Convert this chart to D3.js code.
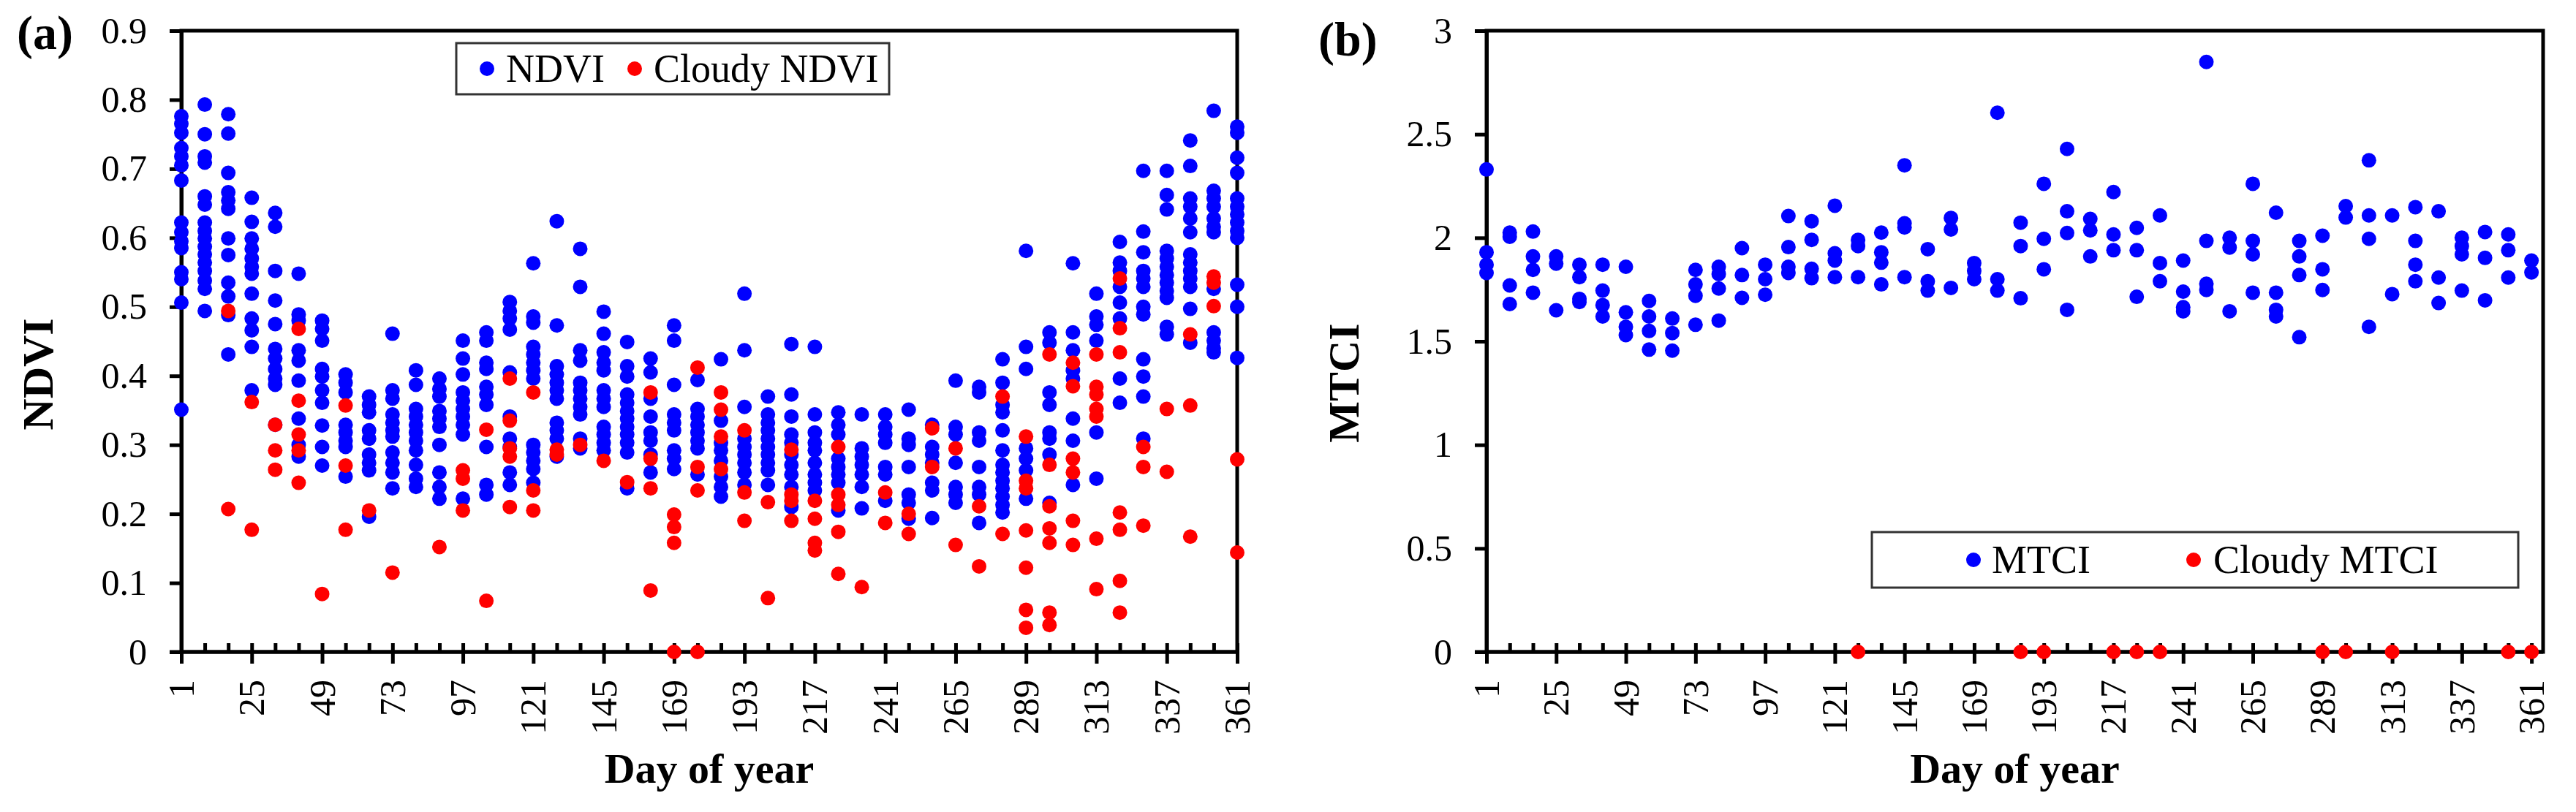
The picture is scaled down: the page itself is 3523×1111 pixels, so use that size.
<!DOCTYPE html>
<html lang="en">
<head>
<meta charset="utf-8">
<script src="https://cdn.jsdelivr.net/npm/d3@7"></script>
<style>
  body { margin: 0; background: #fff; }
  text { font-family: "Liberation Serif", "Times New Roman", serif; fill: #000; }
</style>
</head>
<body>
<div id="chart"></div>
<script>
// observation days (8-day composites)
var days = [1, 9, 17, 25, 33, 41, 49, 57, 65, 73, 81, 89, 97, 105, 113, 121, 129, 137, 145, 153, 161, 169, 177,
            185, 193, 201, 209, 217, 225, 233, 241, 249, 257, 265, 273, 281, 289, 297, 305, 313, 321, 329, 337, 345, 353, 361];
var majorDays = [1, 25, 49, 73, 97, 121, 145, 169, 193, 217, 241, 265, 289, 313, 337, 361];

var ndviTicks = [0, 0.1, 0.2, 0.3, 0.4, 0.5, 0.6, 0.7, 0.8, 0.9];
var ndviTickLabels = ["0", "0.1", "0.2", "0.3", "0.4", "0.5", "0.6", "0.7", "0.8", "0.9"];
var mtciTicks = [0, 0.5, 1, 1.5, 2, 2.5, 3];
var mtciTickLabels = ["0", "0.5", "1", "1.5", "2", "2.5", "3"];

// NDVI values per day (one list per entry of days)
var ndvi = [
  [0.776, 0.765, 0.752, 0.73, 0.718, 0.705, 0.683, 0.622, 0.608, 0.595, 0.585, 0.55, 0.54, 0.506, 0.351],
  [0.793, 0.75, 0.718, 0.709, 0.66, 0.648, 0.622, 0.61, 0.599, 0.587, 0.576, 0.564, 0.552, 0.538, 0.526, 0.494],
  [0.779, 0.751, 0.694, 0.666, 0.654, 0.642, 0.599, 0.575, 0.535, 0.515, 0.488, 0.431],
  [0.658, 0.623, 0.599, 0.584, 0.57, 0.558, 0.548, 0.519, 0.483, 0.466, 0.442, 0.379],
  [0.636, 0.616, 0.552, 0.509, 0.475, 0.439, 0.425, 0.41, 0.396, 0.387, 0.329],
  [0.548, 0.489, 0.48, 0.437, 0.422, 0.393, 0.338, 0.3, 0.283],
  [0.48, 0.468, 0.451, 0.41, 0.399, 0.379, 0.361, 0.328, 0.297, 0.27],
  [0.402, 0.39, 0.376, 0.329, 0.318, 0.306, 0.297, 0.254],
  [0.37, 0.358, 0.347, 0.321, 0.309, 0.286, 0.274, 0.263, 0.196],
  [0.461, 0.379, 0.367, 0.344, 0.332, 0.321, 0.312, 0.289, 0.274, 0.26, 0.237],
  [0.408, 0.387, 0.352, 0.341, 0.329, 0.318, 0.306, 0.292, 0.271, 0.251, 0.239],
  [0.396, 0.381, 0.37, 0.349, 0.338, 0.326, 0.3, 0.26, 0.239, 0.222],
  [0.451, 0.425, 0.402, 0.376, 0.364, 0.352, 0.341, 0.329, 0.315, 0.222],
  [0.463, 0.451, 0.419, 0.41, 0.384, 0.373, 0.358, 0.297, 0.242, 0.228],
  [0.507, 0.494, 0.483, 0.467, 0.405, 0.341, 0.309, 0.297, 0.26, 0.242],
  [0.563, 0.486, 0.477, 0.442, 0.431, 0.419, 0.408, 0.396, 0.3, 0.289, 0.277, 0.265, 0.245],
  [0.624, 0.473, 0.414, 0.402, 0.39, 0.379, 0.367, 0.332, 0.321, 0.309, 0.283],
  [0.584, 0.529, 0.437, 0.422, 0.39, 0.379, 0.367, 0.355, 0.344, 0.309, 0.295],
  [0.493, 0.461, 0.434, 0.419, 0.408, 0.379, 0.367, 0.355, 0.326, 0.315, 0.303, 0.292],
  [0.449, 0.414, 0.399, 0.373, 0.361, 0.349, 0.338, 0.326, 0.315, 0.303, 0.289, 0.237],
  [0.425, 0.405, 0.367, 0.341, 0.318, 0.306, 0.286, 0.26],
  [0.473, 0.451, 0.387, 0.344, 0.332, 0.321, 0.292, 0.28, 0.265],
  [0.394, 0.352, 0.341, 0.329, 0.318, 0.306, 0.295, 0.257],
  [0.424, 0.335, 0.303, 0.292, 0.277, 0.254, 0.239, 0.225],
  [0.519, 0.437, 0.355, 0.309, 0.297, 0.286, 0.274, 0.26, 0.242],
  [0.37, 0.344, 0.332, 0.321, 0.309, 0.297, 0.286, 0.274, 0.263, 0.242],
  [0.446, 0.373, 0.341, 0.315, 0.303, 0.286, 0.271, 0.257, 0.239, 0.21],
  [0.442, 0.344, 0.318, 0.303, 0.292, 0.274, 0.257, 0.245, 0.234],
  [0.347, 0.329, 0.315, 0.28, 0.268, 0.257, 0.245, 0.205],
  [0.344, 0.295, 0.283, 0.271, 0.257, 0.239, 0.208],
  [0.344, 0.326, 0.315, 0.303, 0.268, 0.257, 0.219],
  [0.351, 0.309, 0.3, 0.268, 0.228, 0.216, 0.193],
  [0.329, 0.297, 0.286, 0.274, 0.245, 0.234, 0.194],
  [0.393, 0.326, 0.315, 0.274, 0.239, 0.228, 0.216],
  [0.384, 0.376, 0.318, 0.306, 0.268, 0.239, 0.228, 0.187],
  [0.424, 0.39, 0.358, 0.347, 0.321, 0.292, 0.271, 0.26, 0.248, 0.237, 0.225, 0.213, 0.202],
  [0.581, 0.442, 0.41, 0.295, 0.28, 0.263, 0.222],
  [0.463, 0.448, 0.376, 0.358, 0.318, 0.309, 0.286, 0.216],
  [0.563, 0.463, 0.437, 0.408, 0.396, 0.338, 0.306, 0.242],
  [0.519, 0.486, 0.474, 0.451, 0.318, 0.251],
  [0.594, 0.564, 0.552, 0.529, 0.506, 0.483, 0.396, 0.361],
  [0.697, 0.609, 0.579, 0.552, 0.541, 0.529, 0.5, 0.489, 0.424, 0.399, 0.37, 0.309],
  [0.697, 0.662, 0.641, 0.581, 0.57, 0.558, 0.546, 0.535, 0.523, 0.513, 0.471, 0.46],
  [0.741, 0.704, 0.657, 0.645, 0.628, 0.608, 0.576, 0.564, 0.552, 0.541, 0.529, 0.497, 0.448],
  [0.784, 0.668, 0.657, 0.645, 0.628, 0.616, 0.608, 0.526, 0.463, 0.451, 0.44, 0.434],
  [0.761, 0.752, 0.716, 0.694, 0.657, 0.645, 0.634, 0.622, 0.61, 0.6, 0.532, 0.5, 0.426]
];

var cloudyNdvi = [
  [], [], [0.494, 0.207], [0.362, 0.177], [0.329, 0.292, 0.264], [0.468, 0.364, 0.315, 0.292, 0.245],
  [0.084], [0.357, 0.27, 0.177], [0.205], [0.115], [], [0.152], [0.263, 0.251, 0.205], [0.322, 0.074],
  [0.396, 0.335, 0.295, 0.283, 0.21], [0.376, 0.234, 0.205], [0.293, 0.286], [0.3], [0.277], [0.246],
  [0.376, 0.28, 0.237, 0.089], [0.199, 0.181, 0.158, 0], [0.412, 0.268, 0.234, 0], [0.376, 0.351, 0.312, 0.265],
  [0.321, 0.231, 0.19], [0.217, 0.078], [0.293, 0.228, 0.219, 0.19], [0.219, 0.193, 0.158, 0.147],
  [0.297, 0.228, 0.213, 0.174, 0.113], [0.094], [0.231, 0.187], [0.2, 0.171], [0.324, 0.268], [0.295, 0.155],
  [0.211, 0.124], [0.37, 0.171], [0.312, 0.248, 0.237, 0.176, 0.122, 0.061, 0.035],
  [0.431, 0.271, 0.211, 0.179, 0.158, 0.057, 0.039], [0.419, 0.385, 0.28, 0.26, 0.19, 0.155],
  [0.431, 0.384, 0.373, 0.352, 0.341, 0.164, 0.091], [0.541, 0.469, 0.434, 0.202, 0.177, 0.103, 0.057],
  [0.297, 0.268, 0.183], [0.352, 0.261], [0.46, 0.357, 0.167], [0.544, 0.535, 0.501], [0.279, 0.144]
];

// MTCI values per day
var mtci = [
  [2.33, 1.93, 1.87, 1.83], [2.025, 2.005, 1.77, 1.68], [2.03, 1.91, 1.845, 1.735], [1.91, 1.875, 1.65],
  [1.87, 1.81, 1.705, 1.69], [1.87, 1.745, 1.675, 1.62], [1.86, 1.64, 1.57, 1.53], [1.695, 1.62, 1.55, 1.46],
  [1.61, 1.54, 1.455], [1.845, 1.775, 1.72, 1.58], [1.86, 1.825, 1.755, 1.6], [1.95, 1.82, 1.71],
  [1.87, 1.8, 1.725], [2.105, 1.955, 1.86, 1.83], [2.08, 1.99, 1.85, 1.805], [2.155, 1.925, 1.89, 1.81],
  [1.99, 1.96, 1.81], [2.025, 1.93, 1.88, 1.775], [2.35, 2.07, 2.05, 1.81], [1.945, 1.79, 1.745],
  [2.096, 2.04, 1.758], [1.878, 1.84, 1.8], [2.604, 1.8, 1.745], [2.073, 1.96, 1.708],
  [2.261, 1.995, 1.848], [2.429, 2.128, 2.023, 1.652], [2.091, 2.036, 1.91], [2.221, 2.016, 1.94],
  [2.048, 1.94, 1.715], [2.108, 1.878, 1.79], [1.89, 1.74, 1.665, 1.645], [2.849, 1.985, 1.778, 1.748],
  [2.0, 1.953, 1.645], [2.261, 1.985, 1.92, 1.735], [2.121, 1.735, 1.652, 1.62], [1.985, 1.91, 1.82, 1.52],
  [2.01, 1.848, 1.748], [2.153, 2.098], [2.374, 2.108, 1.995, 1.57], [2.108, 1.728],
  [2.148, 1.985, 1.87, 1.79], [2.128, 1.808, 1.685], [2.0, 1.96, 1.92, 1.745], [2.028, 1.903, 1.698],
  [2.016, 1.94, 1.808], [1.89, 1.833]
];

var cloudyMtciDays = [129, 185, 193, 217, 225, 233, 289, 297, 313, 353, 361];
var cloudyMtciValues = [0, 0, 0, 0, 0, 0, 0, 0, 0, 0, 0];

var width = 3523;
var height = 1111;
var plotTop = 42;
var plotBottom = 892;
var dotRadius = 10;
var blue = "#0000ff";
var red = "#ff0000";

var svg = d3.select("#chart").append("svg")
  .attr("width", width)
  .attr("height", height);

svg.append("rect")
  .attr("width", width)
  .attr("height", height)
  .attr("fill", "#fff");

function flatten(dayList, lists) {
  var out = [];
  dayList.forEach(function(d, i) {
    lists[i].forEach(function(v) { out.push({day: d, value: v}); });
  });
  return out;
}

function drawPanel(p) {
  var x = d3.scaleLinear().domain(p.xDomain).range([p.left, p.right]);
  var y = d3.scaleLinear().domain(p.yDomain).range([plotBottom, plotTop]);
  var g = svg.append("g");

  /* frame */
  g.append("rect")
    .attr("x", p.left)
    .attr("y", plotTop)
    .attr("width", p.right - p.left)
    .attr("height", plotBottom - plotTop)
    .attr("fill", "none")
    .attr("stroke", "#000")
    .attr("stroke-width", 5);

  /* y axis */
  var yAxis = d3.axisLeft(y)
    .tickValues(p.yTicks)
    .tickFormat(function(d, i) { return p.yLabels[i]; })
    .tickSizeInner(16)
    .tickSizeOuter(0)
    .tickPadding(31);

  var ya = g.append("g")
    .attr("transform", "translate(" + p.left + ",0)")
    .call(yAxis);
  ya.selectAll("path, line").attr("stroke", "#000").attr("stroke-width", 5);
  ya.selectAll("text").style("font-size", "50px").attr("fill", "#000");

  /* x axis: minor ticks pointing up, major ticks crossing with rotated labels */
  var xMinor = d3.axisTop(x)
    .tickValues(days)
    .tickSizeInner(12)
    .tickSizeOuter(0)
    .tickFormat("");
  var xm = g.append("g")
    .attr("transform", "translate(0," + plotBottom + ")")
    .call(xMinor);
  xm.select(".domain").remove();
  xm.selectAll("line").attr("stroke", "#000").attr("stroke-width", 5);

  var xAxis = d3.axisBottom(x)
    .tickValues(majorDays)
    .tickSizeInner(16)
    .tickSizeOuter(0);
  var xa = g.append("g")
    .attr("transform", "translate(0," + plotBottom + ")")
    .call(xAxis);
  xa.select(".domain").attr("d", "M" + (p.left - 16) + ",0H" + p.right);
  xa.selectAll("path, line").attr("stroke", "#000").attr("stroke-width", 5);
  xa.selectAll("text")
    .style("font-size", "50px")
    .attr("fill", "#000")
    .attr("text-anchor", "end")
    .attr("transform", "rotate(-90)")
    .attr("x", -38)
    .attr("y", 0)
    .attr("dy", "0.33em");

  /* points */
  var clear = flatten(p.days, p.clear);
  var cloudy = flatten(p.cloudyDays, p.cloudy);

  g.append("g").selectAll("circle")
    .data(clear).enter()
    .append("circle")
    .attr("cx", d => x(d.day))
    .attr("cy", d => y(d.value))
    .attr("r", dotRadius)
    .attr("fill", blue);

  g.append("g").selectAll("circle")
    .data(cloudy).enter()
    .append("circle")
    .attr("cx", d => x(d.day))
    .attr("cy", d => y(d.value))
    .attr("r", dotRadius)
    .attr("fill", red);

  /* titles */
  g.append("text")
    .attr("x", p.tagX)
    .attr("y", p.tagY)
    .style("font-size", "66px")
    .style("font-weight", "bold")
    .text(p.tag);

  g.append("text")
    .attr("transform", "translate(" + p.yTitleX + "," + p.yTitleY + ") rotate(-90)")
    .attr("text-anchor", "middle")
    .style("font-size", "60px")
    .style("font-weight", "bold")
    .text(p.yTitle);

  g.append("text")
    .attr("x", (p.left + p.right) / 2)
    .attr("y", 1071)
    .attr("text-anchor", "middle")
    .style("font-size", "58px")
    .style("font-weight", "bold")
    .text("Day of year");

  /* legend */
  var lg = g.append("g");
  lg.append("rect")
    .attr("x", p.legend.x)
    .attr("y", p.legend.y)
    .attr("width", p.legend.w)
    .attr("height", p.legend.h)
    .attr("fill", "#fff")
    .attr("stroke", "#333")
    .attr("stroke-width", 3);

  p.legend.items.forEach(function(it) {
    lg.append("circle")
      .attr("cx", it.dotX)
      .attr("cy", p.legend.y + p.legend.h / 2)
      .attr("r", dotRadius)
      .attr("fill", it.color);
    lg.append("text")
      .attr("x", it.textX)
      .attr("y", p.legend.y + p.legend.h / 2 + 18)
      .style("font-size", "54px")
      .text(it.label);
  });
}

drawPanel({
  left: 248, right: 1692,
  xDomain: [1, 361], yDomain: [0, 0.9],
  yTicks: ndviTicks, yLabels: ndviTickLabels,
  days: days, clear: ndvi,
  cloudyDays: days, cloudy: cloudyNdvi,
  tag: "(a)", tagX: 23, tagY: 67,
  yTitle: "NDVI", yTitleX: 72, yTitleY: 512,
  legend: {
    x: 624, y: 59, w: 592, h: 70,
    items: [
      {color: blue, dotX: 666, textX: 692, label: "NDVI"},
      {color: red, dotX: 868, textX: 894, label: "Cloudy NDVI"}
    ]
  }
});

drawPanel({
  left: 2033, right: 3478,
  xDomain: [1, 365], yDomain: [0, 3],
  yTicks: mtciTicks, yLabels: mtciTickLabels,
  days: days, clear: mtci,
  cloudyDays: cloudyMtciDays, cloudy: cloudyMtciValues.map(v => [v]),
  tag: "(b)", tagX: 1803, tagY: 76,
  yTitle: "MTCI", yTitleX: 1858, yTitleY: 524,
  legend: {
    x: 2560, y: 728, w: 884, h: 76,
    items: [
      {color: blue, dotX: 2699, textX: 2724, label: "MTCI"},
      {color: red, dotX: 3000, textX: 3027, label: "Cloudy MTCI"}
    ]
  }
});
</script>
</body>
</html>
